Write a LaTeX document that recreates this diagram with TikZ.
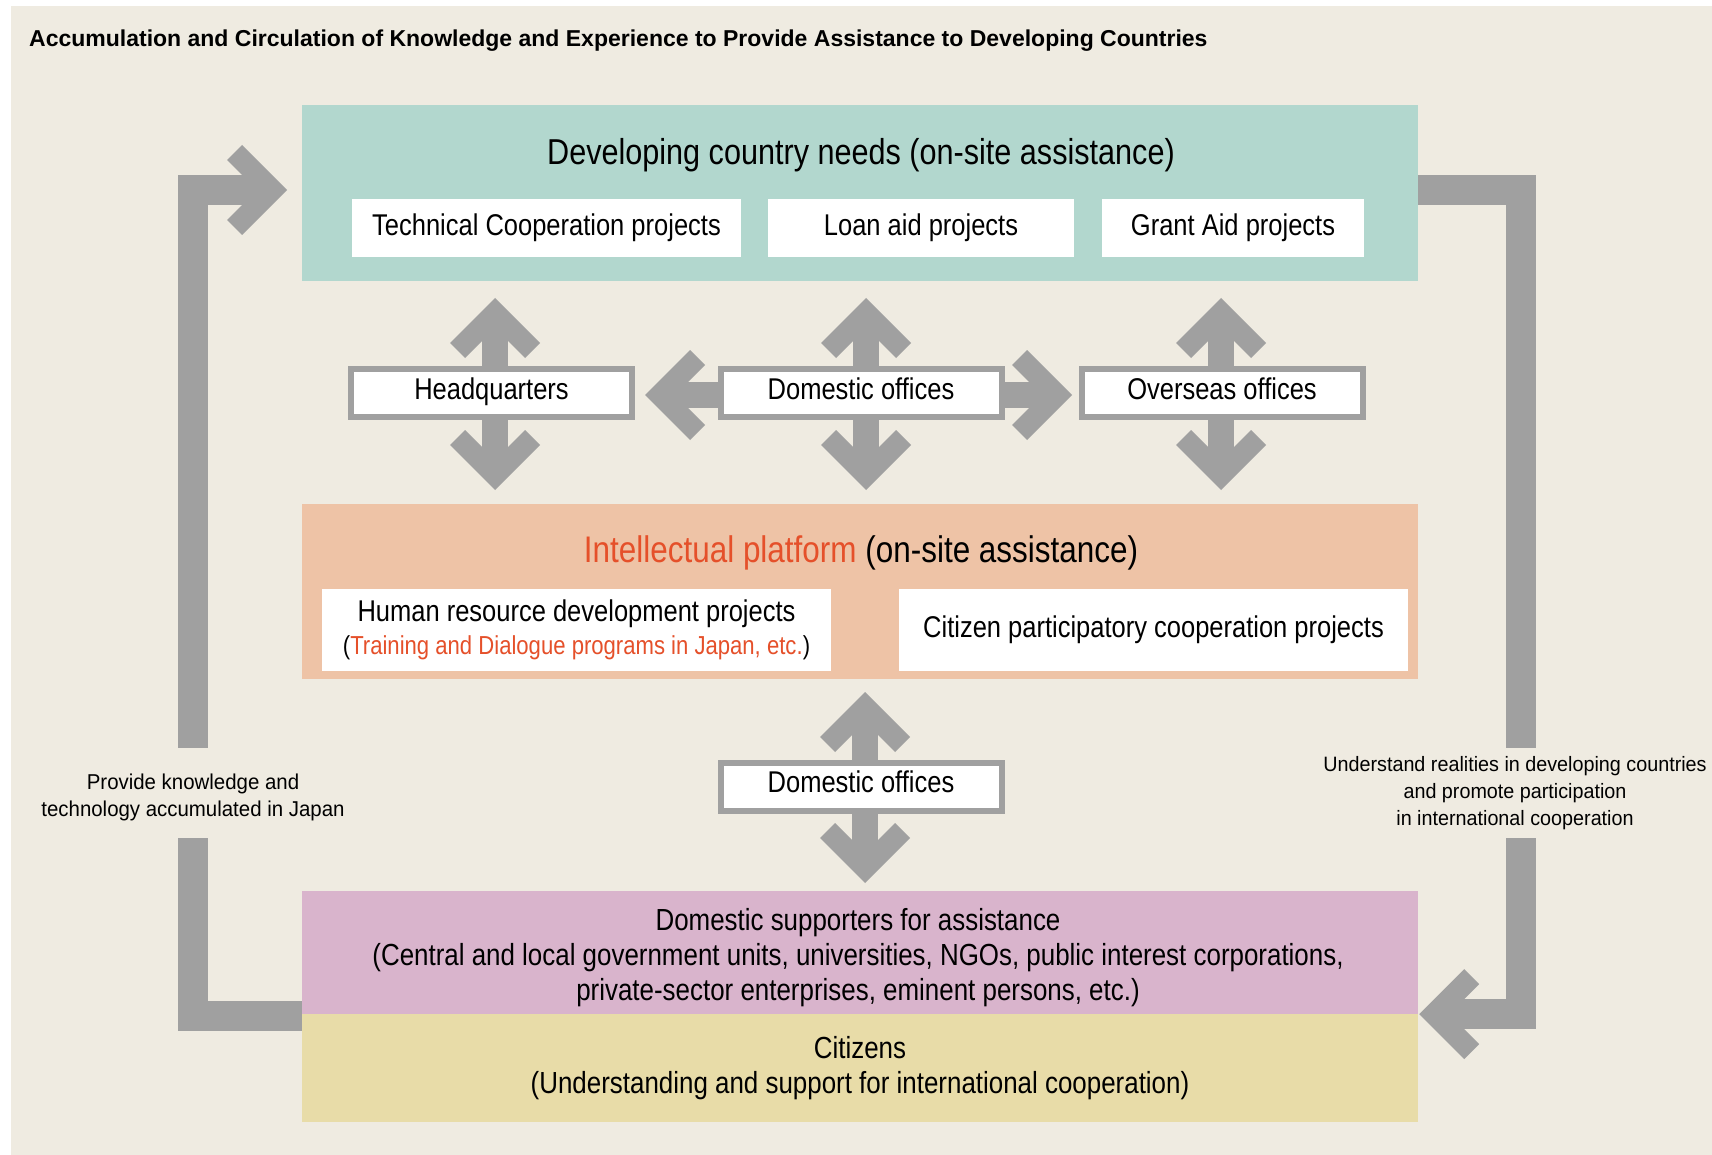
\documentclass[tikz,border=0pt]{standalone}
\usepackage{fontspec}
\setmainfont{Liberation Sans}[FakeStretch=0.85]
\newfontfamily\headfont{Liberation Sans}[FakeStretch=1.0]
\newfontfamily\notefont{Liberation Sans}[FakeStretch=0.95]
\usepackage{tikz}
\usetikzlibrary{calc}
\definecolor{bgbeige}{HTML}{EFEBE1}
\definecolor{needscol}{HTML}{B2D7CE}
\definecolor{platcol}{HTML}{EEC3A6}
\definecolor{suppcol}{HTML}{D9B4CC}
\definecolor{citcol}{HTML}{E8DCA8}
\definecolor{arrowgray}{HTML}{A0A0A0}
\definecolor{redtext}{HTML}{E5502A}
\pgfdeclarelayer{back}
\pgfsetlayers{back,main}

\begin{document}
\begin{tikzpicture}[x=1pt, y=-1pt,
  panel/.style={inner sep=0pt, minimum width=1116pt, align=center,
    font=\fontsize{30.5}{35}\selectfont},
  whitebox/.style={fill=white, inner sep=0pt, minimum height=58pt,
    font=\fontsize{30}{36}\selectfont},
  officebox/.style={fill=white, draw=arrowgray, line width=6pt, inner sep=0pt,
    minimum width=281pt, minimum height=48pt, text height=20pt, text depth=8pt,
    font=\fontsize{30}{36}\selectfont},
  looplabel/.style={inner sep=0pt, minimum height=90pt, align=center,
    font=\notefont\fontsize{21.5}{27}\selectfont},
  shaft/.style={draw=arrowgray, line width=26pt, shorten <=30pt, shorten >=30pt},
  loopbar/.style={draw=arrowgray, line width=30pt},
  chev/.pic={\fill[arrowgray] (0,0) -- (-45,45) -- (-60,30) -- (-43,13)
    -- (-43,-13) -- (-60,-30) -- (-45,-45) -- cycle;}
]
\useasboundingbox (0,0) rectangle (1712,1155);

\node[anchor=west, inner sep=0pt, font=\headfont\fontsize{23}{27}\selectfont\bfseries] (heading) at (29,41)
  {Accumulation and Circulation of Knowledge and Experience to Provide Assistance to Developing Countries};

% coloured panels
\node[panel, fill=needscol, minimum height=176pt] (needs) at (860,193) {};
\node[font=\fontsize{36}{40}\selectfont] (needstitle) at (861,155) {Developing country needs (on-site assistance)};
\node[whitebox, minimum width=389pt] (tech) at (546.5,228) {Technical Cooperation projects};
\node[whitebox, minimum width=306pt] (loan) at (921,228) {Loan aid projects};
\node[whitebox, minimum width=262pt] (grant) at (1233,228) {Grant Aid projects};

\node[officebox] (hq) at (491.5,393) {Headquarters};
\node[officebox] (do) at (861,393) {Domestic offices};
\node[officebox] (os) at (1222,393) {Overseas offices};

\node[panel, fill=platcol, minimum height=175pt] (platform) at (860,591.5) {};
\node[font=\fontsize{37}{40}\selectfont] (plattitle) at (861,553)
  {\textcolor{redtext}{Intellectual platform} (on-site assistance)};
\node[whitebox, minimum width=509pt, minimum height=82pt, align=center] (hrd) at (576.5,630)
  {Human resource development projects\\[-3pt]
   {\fontsize{26}{30}\selectfont(\textcolor{redtext}{Training and Dialogue programs in Japan, etc.})}};
\node[whitebox, minimum width=509pt, minimum height=82pt] (cpc) at (1153.5,630)
  {Citizen participatory cooperation projects};

\node[officebox] (dolow) at (861,786.5) {Domestic offices};

\node[panel, fill=suppcol, minimum height=123pt] (supporters) at (860,952.5) {};
\node[align=center, inner sep=0pt, font=\fontsize{30.5}{35}\selectfont] (supptxt) at (858,958)
  {Domestic supporters for assistance\\
   (Central and local government units, universities, NGOs, public interest corporations,\\
   private-sector enterprises, eminent persons, etc.)};
\node[panel, fill=citcol, minimum height=108pt] (citizens) at (860,1068)
  {Citizens\\(Understanding and support for international cooperation)};

\node[looplabel] (givetxt) at (193,797)
  {Provide knowledge and\\technology accumulated in Japan};
\node[looplabel, font=\notefont\fontsize{20.8}{27}\selectfont] (learntxt) at (1515,793)
  {Understand realities in developing countries\\and promote participation\\in international cooperation};

\coordinate (ltip) at (287,190);
\coordinate (rtip) at ($(supporters.south east)+(1,0)$);
\coordinate (hlt) at (645,395);
\coordinate (hrt) at (1072,395);

\begin{pgfonlayer}{back}
\fill[bgbeige] (11,6) rectangle (1712,1155);

\foreach \ax in {495,866,1221}{
  \draw[shaft] (\ax,298) -- (\ax,490);
  \pic[rotate=90] at (\ax,298) {chev};
  \pic[rotate=-90] at (\ax,490) {chev};
}
\draw[shaft, shorten <=0pt] (do.west |- hlt) -- (hlt);
\pic[rotate=180] at (hlt) {chev};
\draw[shaft, shorten <=0pt] (do.east |- hrt) -- (hrt);
\pic at (hrt) {chev};

\draw[shaft] (865,692) -- (865,883);
\pic[rotate=90] at (865,692) {chev};
\pic[rotate=-90] at (865,883) {chev};

\draw[loopbar] ($(supporters.south west)+(0,2)$) -| ($(givetxt.south)+(0,-4)$);
\draw[loopbar, shorten >=30pt] ($(givetxt.north)+(0,-4)$) |- (ltip);
\pic at (ltip) {chev};
\draw[loopbar] ($(needs.east)+(0,-3)$) -| ($(learntxt.north)+(6,0)$);
\draw[loopbar, shorten >=30pt] ($(learntxt.south)+(6,0)$) |- (rtip);
\pic[rotate=180] at (rtip) {chev};
\end{pgfonlayer}
\end{tikzpicture}
\end{document}
